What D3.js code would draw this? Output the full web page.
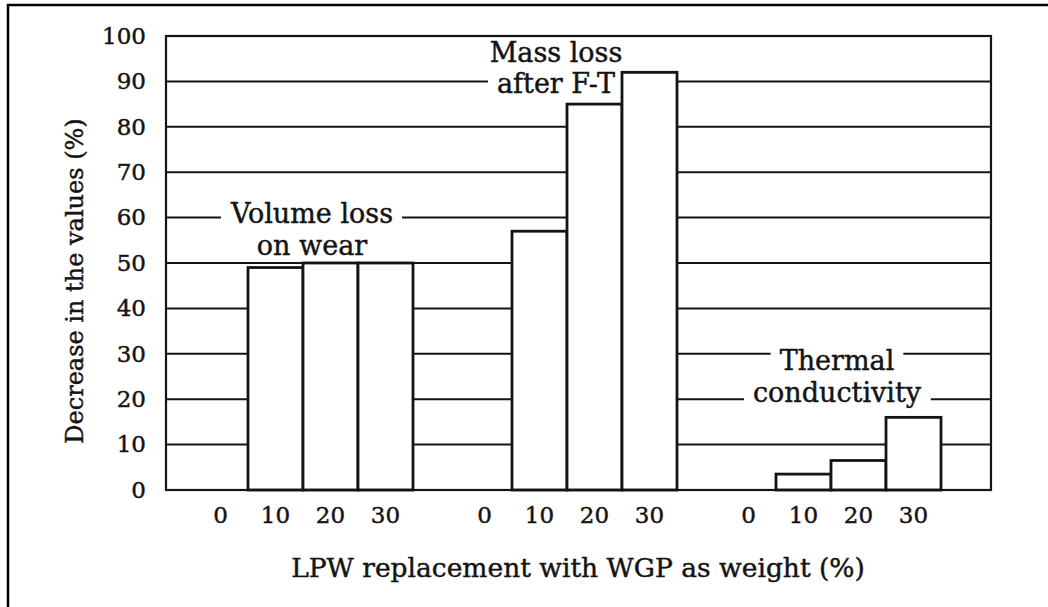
<!DOCTYPE html>
<html>
<head>
<meta charset="utf-8">
<script src="https://cdn.jsdelivr.net/npm/d3@7"></script>
<style>
  html, body { margin: 0; padding: 0; background: #fff; }
  svg { display: block; }
  text { font-family: "DejaVu Serif", "Liberation Serif", serif; fill: #141414; stroke: #141414; stroke-width: 0.45px; }
</style>
</head>
<body>
<svg id="chart" width="1048" height="607"></svg>
<script>
// ---------- data ----------
const groups = ["Volume loss on wear", "Mass loss after F-T", "Thermal conductivity"];
const replacement = ["0", "10", "20", "30"];
const volumeLossOnWear = [0, 49, 50, 50];
const massLossAfterFT = [0, 57, 85, 92];
const thermalConductivity = [0, 3.5, 6.5, 16];
const yTicks = [0, 10, 20, 30, 40, 50, 60, 70, 80, 90, 100];
const groupLabels = [["Volume loss", "on wear"], ["Mass loss", "after F-T"], ["Thermal", "conductivity"]];
const yTitle = "Decrease in the values (%)";
const xTitle = "LPW replacement with WGP as weight (%)";

const seriesValues = [volumeLossOnWear, massLossAfterFT, thermalConductivity];
const table = [];
groups.forEach((g, gi) => replacement.forEach((r, ri) => table.push({ group: g, rep: r, value: seriesValues[gi][ri] })));

// ---------- layout ----------
const svg = d3.select("#chart");
const plot = { left: 166, right: 991, top: 36, bottom: 490 };
const ink = "#141414";

const y = d3.scaleLinear().domain([0, 100]).range([plot.bottom, plot.top]);
const x0 = d3.scaleBand().domain(groups).range([plot.left + 27, plot.right - 50]).paddingInner(1 / 6).paddingOuter(0);
const x1 = d3.scaleBand().domain(replacement).range([0, x0.bandwidth()]).padding(0);

// outer frame
svg.append("rect").attr("x", 8).attr("y", 5).attr("width", 1060).attr("height", 620)
  .attr("fill", "#fff").attr("stroke", "#000").attr("stroke-width", 2.5);

// gridlines
svg.append("g").selectAll("line").data(yTicks.filter(t => t > 0 && t < 100)).join("line")
  .attr("x1", plot.left).attr("x2", plot.right)
  .attr("y1", d => y(d)).attr("y2", d => y(d))
  .attr("stroke", ink).attr("stroke-width", 2);

// group annotation labels (with white background breaking the gridlines)
const labelSpec = [
  { dx: 9, lines: [58.8, 51.8] },
  { dx: -11, lines: [94.3, 87.4] },
  { dx: 6, lines: [26.4, 19.4] }
];
const lblG = svg.append("g");
groupLabels.forEach((lines, gi) => {
  const cx = x0(groups[gi]) + x0.bandwidth() / 2 + labelSpec[gi].dx;
  lines.forEach((txt, li) => {
    const t = lblG.append("text").attr("x", cx).attr("y", y(labelSpec[gi].lines[li]))
      .attr("text-anchor", "middle").attr("font-size", 27).text(txt);
    const bb = t.node().getBBox();
    lblG.insert("rect", "text").attr("x", bb.x - 9).attr("y", bb.y + 2)
      .attr("width", bb.width + 18).attr("height", bb.height - 6).attr("fill", "#fff");
  });
});

// bars
svg.append("g").selectAll("rect").data(table.filter(d => d.value > 0)).join("rect")
  .attr("x", d => x0(d.group) + x1(d.rep))
  .attr("y", d => y(d.value))
  .attr("width", x1.bandwidth())
  .attr("height", d => y(0) - y(d.value))
  .attr("fill", "#fff").attr("stroke", ink).attr("stroke-width", 2.8);

// plot frame
svg.append("rect").attr("x", plot.left).attr("y", plot.top)
  .attr("width", plot.right - plot.left).attr("height", plot.bottom - plot.top)
  .attr("fill", "none").attr("stroke", ink).attr("stroke-width", 2.2);

// y axis
const yAxis = svg.append("g").attr("transform", `translate(${plot.left},0)`)
  .call(d3.axisLeft(y).tickValues(yTicks).tickSize(0).tickPadding(20));
yAxis.select(".domain").remove();
yAxis.selectAll("text").attr("font-size", 23).attr("font-family", "DejaVu Serif").attr("fill", ink);

// x axes (one per group)
groups.forEach(g => {
  const ax = svg.append("g").attr("transform", `translate(${x0(g)},${plot.bottom})`)
    .call(d3.axisBottom(x1).tickSize(0).tickPadding(17));
  ax.select(".domain").remove();
  ax.selectAll("text").attr("font-size", 23).attr("font-family", "DejaVu Serif").attr("fill", ink);
});

// axis titles
svg.append("text").attr("transform", "translate(75,281) rotate(-90)")
  .attr("text-anchor", "middle").attr("dominant-baseline", "central")
  .attr("font-size", 24).text(yTitle);
svg.append("text").attr("x", 578).attr("y", 577)
  .attr("text-anchor", "middle").attr("font-size", 26.5).text(xTitle);
</script>
</body>
</html>
